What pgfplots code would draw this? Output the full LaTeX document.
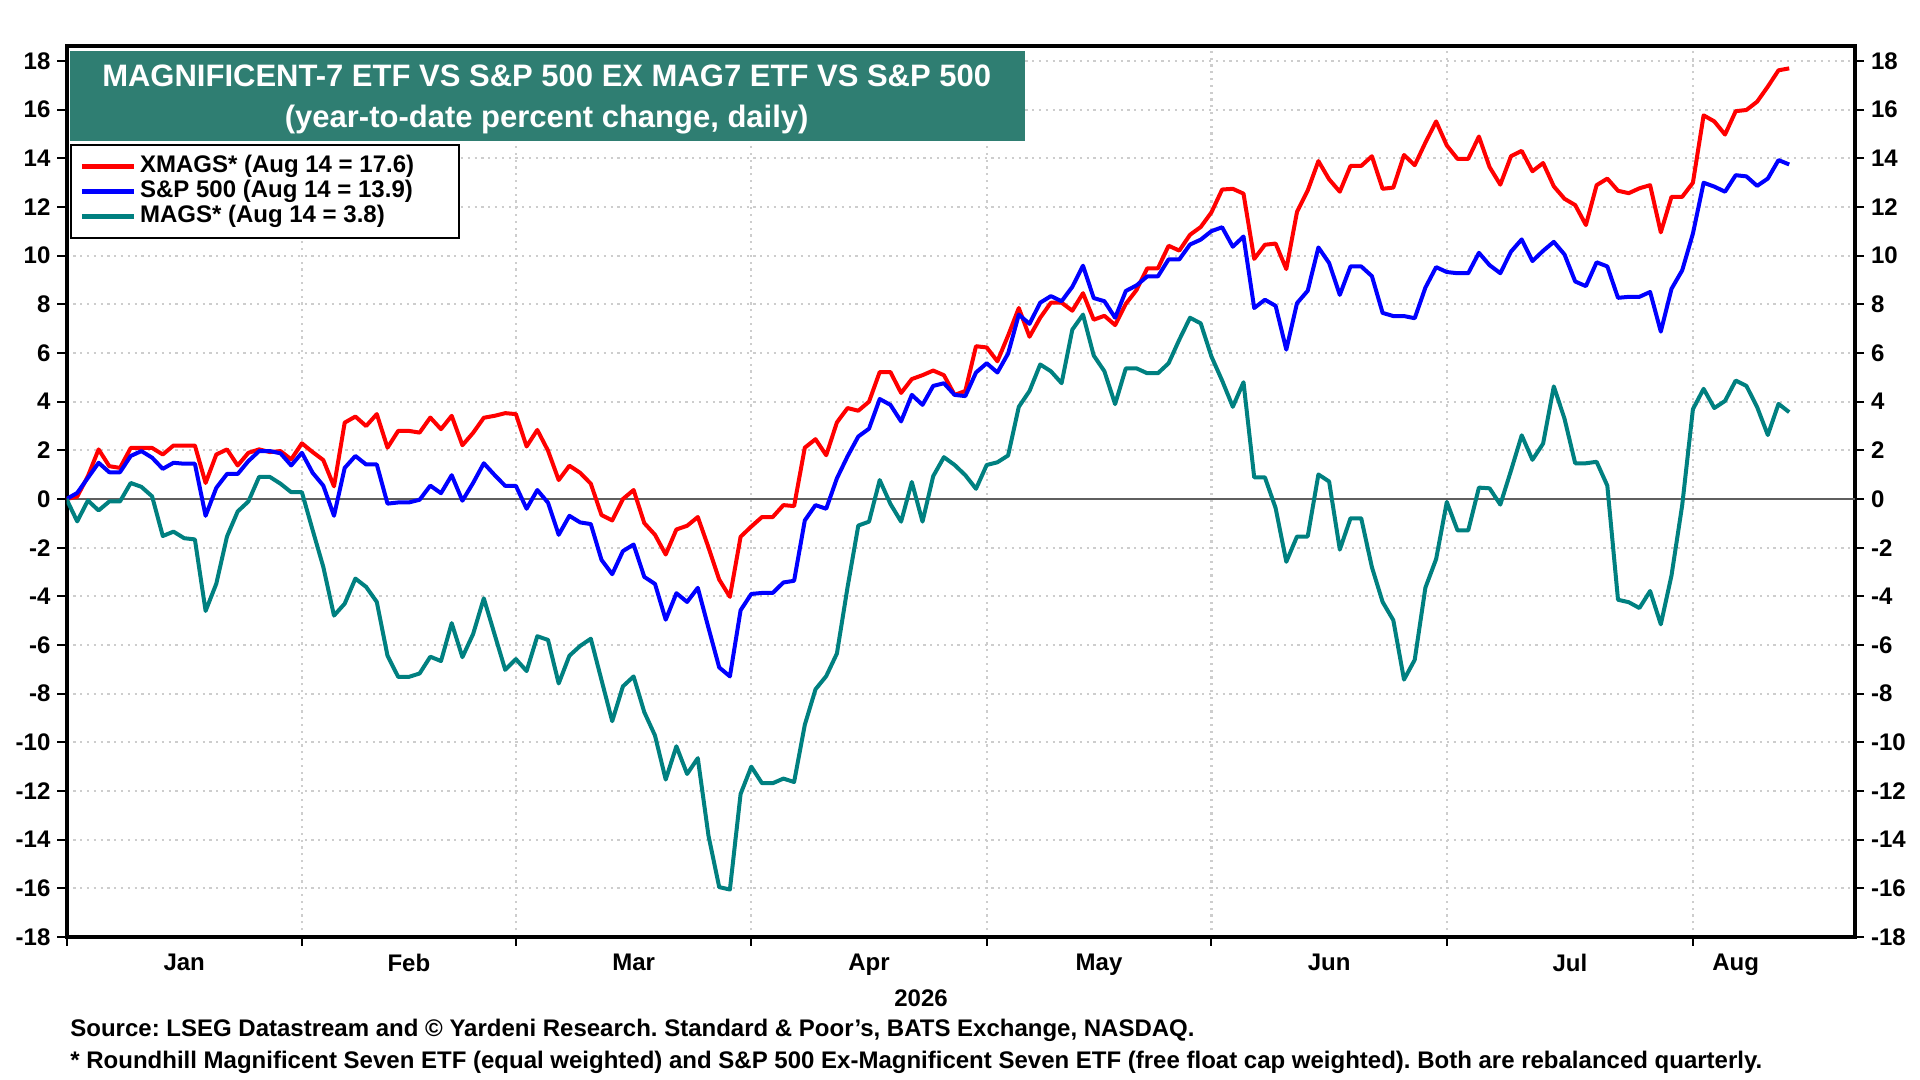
\documentclass[border=0pt]{standalone}
\usepackage{fontspec}
\setmainfont{Liberation Sans}
\usepackage{pgfplots}
\usepackage{pgfplotstable}
\pgfplotsset{compat=1.18}
\definecolor{xred}{RGB}{255,0,0}
\definecolor{spblue}{RGB}{0,0,255}
\definecolor{mteal}{RGB}{0,128,128}
\definecolor{boxteal}{RGB}{47,126,114}
\definecolor{gridgray}{RGB}{205,205,205}
\definecolor{zerogray}{RGB}{95,95,95}

\pgfplotstableread{
i red blue teal
0 0 0 0
1 0.1 0.25 -0.92
2 0.94 0.87 -0.06
3 2.04 1.49 -0.47
4 1.35 1.1 -0.1
5 1.28 1.1 -0.1
6 2.1 1.77 0.66
7 2.1 1.97 0.5
8 2.1 1.7 0.11
9 1.83 1.24 -1.52
10 2.2 1.49 -1.34
11 2.2 1.45 -1.61
12 2.2 1.45 -1.66
13 0.66 -0.69 -4.6
14 1.83 0.46 -3.48
15 2.04 1.03 -1.54
16 1.38 1.03 -0.51
17 1.9 1.56 -0.1
18 2.04 1.97 0.91
19 1.93 1.97 0.91
20 1.97 1.88 0.63
21 1.63 1.38 0.28
22 2.29 1.9 0.28
23 1.93 1.08 -1.27
24 1.6 0.55 -2.79
25 0.52 -0.69 -4.79
26 3.14 1.28 -4.3
27 3.39 1.77 -3.27
28 3.0 1.42 -3.61
29 3.49 1.42 -4.23
30 2.11 -0.19 -6.44
31 2.8 -0.14 -7.31
32 2.8 -0.14 -7.31
33 2.73 -0.03 -7.17
34 3.35 0.55 -6.48
35 2.87 0.24 -6.66
36 3.42 0.98 -5.1
37 2.21 -0.07 -6.5
38 2.72 0.66 -5.55
39 3.34 1.47 -4.08
40 3.42 0.99 -5.55
41 3.53 0.54 -7.02
42 3.49 0.54 -6.58
43 2.16 -0.4 -7.07
44 2.84 0.37 -5.64
45 1.99 -0.15 -5.79
46 0.78 -1.47 -7.58
47 1.37 -0.69 -6.44
48 1.08 -0.96 -6.04
49 0.63 -1.03 -5.74
50 -0.66 -2.5 -7.44
51 -0.88 -3.09 -9.13
52 0 -2.14 -7.7
53 0.37 -1.87 -7.29
54 -0.99 -3.2 -8.76
55 -1.47 -3.49 -9.72
56 -2.28 -4.96 -11.53
57 -1.25 -3.87 -10.16
58 -1.1 -4.23 -11.3
59 -0.74 -3.65 -10.65
60 -1.99 -5.3 -13.84
61 -3.31 -6.92 -15.95
62 -4.02 -7.29 -16.05
63 -1.55 -4.57 -12.12
64 -1.13 -3.9 -11.0
65 -0.74 -3.86 -11.68
66 -0.74 -3.86 -11.68
67 -0.25 -3.43 -11.49
68 -0.29 -3.36 -11.63
69 2.11 -0.88 -9.28
70 2.46 -0.25 -7.82
71 1.8 -0.4 -7.28
72 3.15 0.85 -6.35
73 3.74 1.76 -3.61
74 3.63 2.57 -1.09
75 4.0 2.89 -0.93
76 5.22 4.11 0.78
77 5.22 3.87 -0.2
78 4.36 3.19 -0.93
79 4.93 4.28 0.7
80 5.09 3.87 -0.93
81 5.28 4.65 0.94
82 5.09 4.76 1.72
83 4.28 4.28 1.4
84 4.44 4.23 0.98
85 6.28 5.2 0.42
86 6.23 5.58 1.4
87 5.66 5.2 1.51
88 6.72 5.98 1.79
89 7.85 7.58 3.79
90 6.67 7.2 4.44
91 7.45 8.07 5.53
92 8.07 8.34 5.25
93 8.07 8.13 4.76
94 7.74 8.72 6.96
95 8.46 9.59 7.58
96 7.37 8.26 5.9
97 7.53 8.13 5.25
98 7.15 7.45 3.9
99 8.02 8.55 5.37
100 8.59 8.78 5.37
101 9.48 9.15 5.17
102 9.48 9.15 5.17
103 10.41 9.85 5.58
104 10.21 9.85 6.55
105 10.86 10.46 7.45
106 11.18 10.66 7.22
107 11.78 11.01 5.86
108 12.72 11.17 4.87
109 12.75 10.37 3.79
110 12.55 10.79 4.8
111 9.87 7.85 0.89
112 10.45 8.19 0.89
113 10.5 7.94 -0.37
114 9.45 6.14 -2.58
115 11.8 8.05 -1.54
116 12.68 8.56 -1.54
117 13.89 10.34 1.01
118 13.14 9.7 0.72
119 12.63 8.39 -2.08
120 13.69 9.56 -0.79
121 13.69 9.56 -0.79
122 14.09 9.16 -2.8
123 12.75 7.65 -4.23
124 12.8 7.52 -4.98
125 14.14 7.52 -7.42
126 13.72 7.43 -6.61
127 14.65 8.69 -3.64
128 15.52 9.53 -2.47
129 14.53 9.33 -0.12
130 13.98 9.28 -1.29
131 13.98 9.28 -1.29
132 14.9 10.12 0.47
133 13.64 9.61 0.44
134 12.92 9.28 -0.23
135 14.09 10.17 1.17
136 14.31 10.67 2.62
137 13.47 9.78 1.61
138 13.81 10.2 2.28
139 12.85 10.57 4.63
140 12.34 10.05 3.3
141 12.08 8.94 1.47
142 11.26 8.75 1.47
143 12.9 9.73 1.53
144 13.17 9.56 0.55
145 12.67 8.27 -4.14
146 12.57 8.31 -4.24
147 12.77 8.31 -4.48
148 12.9 8.51 -3.78
149 10.96 6.88 -5.15
150 12.42 8.64 -3.14
151 12.42 9.4 -0.25
152 13.0 10.91 3.69
153 15.77 13.0 4.53
154 15.52 12.84 3.74
155 14.98 12.63 4.03
156 15.94 13.31 4.87
157 15.99 13.26 4.65
158 16.33 12.87 3.78
159 16.95 13.17 2.63
160 17.62 13.93 3.91
161 17.7 13.75 3.57
}\data

\pgfplotsset{
  common/.style={
    at={(33.25pt,71.5pt)}, anchor=south west,
    scale only axis, width=894.25pt, height=445.5pt,
    xmin=0, xmax=167.15, ymin=-18, ymax=18.62,
    ytick={-18,-16,...,18},
    yticklabels={-18,-16,-14,-12,-10,-8,-6,-4,-2,0,2,4,6,8,10,12,14,16,18},
    tick label style={font=\bfseries\fontsize{12}{12}\selectfont},
    tick style={black, line width=1pt},
    major tick length=4.5pt,
  }
}

\begin{document}
\frenchspacing
\begin{tikzpicture}
\useasboundingbox (0,0) rectangle (960pt,540pt);
\begin{axis}[common,
  tick align=outside,
  axis line style={line width=2pt},
  xtick={0,22,42,64,86,107,129,152},
  xticklabels={,,,,,,,},
  xtick pos=left, ytick pos=left,
  extra x ticks={11,32,53,75,96.5,118,140.5,156},
  extra x tick labels={Jan,Feb,Mar,Apr,May,Jun,Jul,Aug},
  extra x tick style={major tick length=0pt, grid=none,
     xticklabel style={yshift=-5pt}},
  xmajorgrids=true, ymajorgrids=true,
  grid style={gridgray, line width=1.1pt, dash pattern=on 1.1pt off 2.3pt},
  legend style={at={(0.002,0.8895)}, anchor=north west,
    draw=black, line width=1pt, fill=white,
    font=\bfseries\fontsize{12}{12}\selectfont,
    inner xsep=4.2pt, inner ysep=4.4pt, row sep=0pt,
    nodes={inner xsep=2pt, inner ysep=0pt, text height=9pt, text depth=3.5pt}},
  legend cell align=left,
  legend image code/.code={\draw[#1, line width=2.3pt] (0pt,0pt) -- (26pt,0pt);},
]
\addplot[zerogray, line width=0.7pt, forget plot] coordinates {(0,0) (167.15,0)};
\addplot[xred, line width=2pt, line join=round] table[x=i, y=red] {\data};
\addlegendentry{\makebox[153.5pt][l]{XMAGS* (Aug 14 = 17.6)}}
\addplot[spblue, line width=2pt, line join=round] table[x=i, y=blue] {\data};
\addlegendentry{\makebox[153.5pt][l]{S\&P 500 (Aug 14 = 13.9)}}
\addplot[mteal, line width=2pt, line join=round] table[x=i, y=teal] {\data};
\addlegendentry{\makebox[153.5pt][l]{MAGS* (Aug 14 = 3.8)}}
\fill[boxteal] (rel axis cs:0.0017,0.9947) rectangle (rel axis cs:0.536,0.893);
\node[text=white, align=center, font=\bfseries\fontsize{15.5}{20.75}\selectfont]
  at (rel axis cs:0.2685,0.940)
  {MAGNIFICENT-7 ETF VS S\&P 500 EX MAG7 ETF VS S\&P 500\\(year-to-date percent change, daily)};
\end{axis}
\begin{axis}[common,
  axis x line=none, axis y line*=right,
  y axis line style={draw=none},
  tick align=outside,
  ytick pos=right,
]
\addplot[draw=none] coordinates {(0,0)};
\end{axis}
\node[font=\bfseries\fontsize{12}{12}\selectfont] at (460.5pt,41pt) {2026};
\node[anchor=west, inner sep=0pt, font=\bfseries\fontsize{12}{12}\selectfont] at (35pt,24.8pt)
  {Source: LSEG Datastream and © Yardeni Research. Standard \& Poor's, BATS Exchange, NASDAQ.};
\node[anchor=west, inner sep=0pt, font=\bfseries\fontsize{12}{12}\selectfont] at (35pt,8.8pt)
  {* Roundhill Magnificent Seven ETF (equal weighted) and S\&P 500 Ex-Magnificent Seven ETF (free float cap weighted). Both are rebalanced quarterly.};
\end{tikzpicture}
\end{document}
